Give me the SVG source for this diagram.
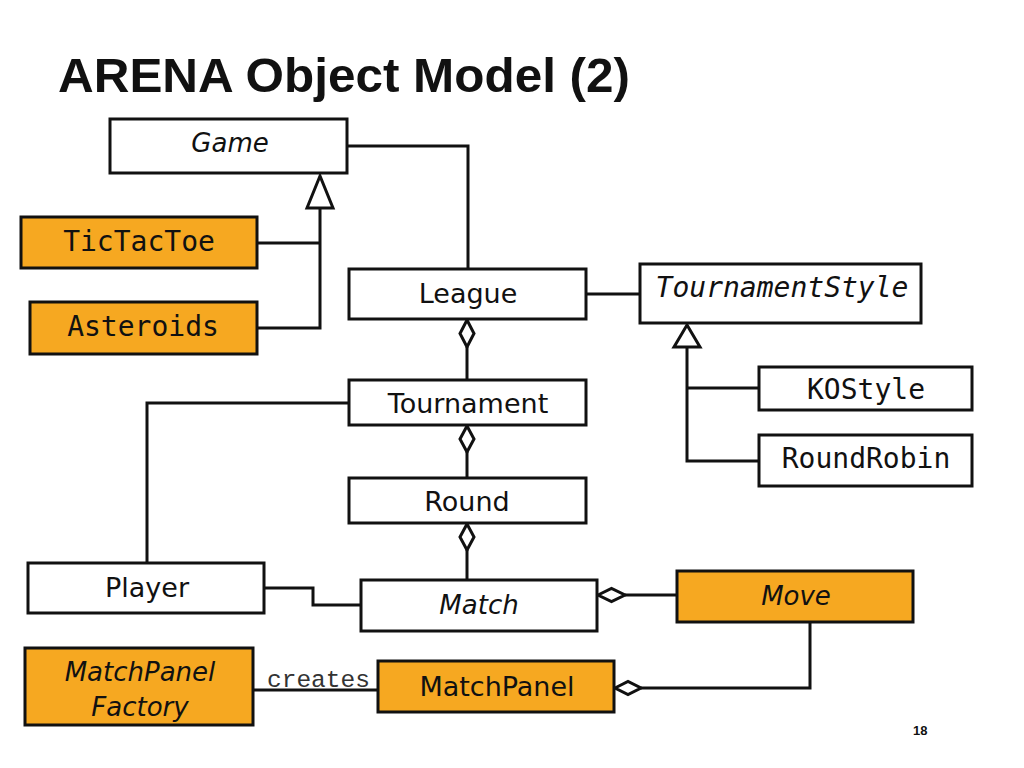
<svg xmlns="http://www.w3.org/2000/svg" width="1024" height="768" viewBox="0 0 1024 768">
<style>
.box{fill:#ffffff;stroke:#111;stroke-width:3}
.org{fill:#F6A821;stroke:#111;stroke-width:3}
.sans{font-family:"DejaVu Sans",Verdana,sans-serif;font-size:27px;fill:#111;text-anchor:middle}
.ital{font-family:"DejaVu Sans",Verdana,sans-serif;font-style:italic;font-size:26px;fill:#111;text-anchor:middle}
.mono{font-family:"DejaVu Sans Mono",monospace;font-size:28px;fill:#111;text-anchor:middle}
.monoi{font-family:"DejaVu Sans Mono",monospace;font-style:italic;font-size:28px;fill:#111;text-anchor:middle}
.ln{fill:none;stroke:#111;stroke-width:3}
.tri{fill:#ffffff;stroke:#111;stroke-width:3;stroke-linejoin:miter}
.dia{fill:#ffffff;stroke:#111;stroke-width:3}
</style>
<rect width="1024" height="768" fill="#ffffff"/>
<text x="58" y="92" font-family="Liberation Sans, Arial, sans-serif" font-weight="bold" font-size="48" fill="#111" textLength="572" lengthAdjust="spacingAndGlyphs">ARENA Object Model (2)</text>

<g id="connectors">
  <!-- Game inheritance -->
  <polyline class="ln" points="320,208 320,328 257,328"/>
  <line class="ln" x1="257" y1="243" x2="320" y2="243"/>
  <polygon class="tri" points="320,176 307,208 333,208"/>
  <!-- Game - League -->
  <polyline class="ln" points="347,146 468,146 468,269"/>
  <!-- League - Tournament -->
  <line class="ln" x1="467" y1="347" x2="467" y2="380"/>
  <polygon class="dia" points="467,320 474,333.5 467,347 460,333.5"/>
  <!-- League - TournamentStyle -->
  <line class="ln" x1="586" y1="294" x2="640" y2="294"/>
  <!-- TournamentStyle inheritance -->
  <polyline class="ln" points="687,347 687,461 759,461"/>
  <line class="ln" x1="687" y1="388" x2="759" y2="388"/>
  <polygon class="tri" points="687,325 674,347 700,347"/>
  <!-- Tournament - Round -->
  <line class="ln" x1="467" y1="452" x2="467" y2="478"/>
  <polygon class="dia" points="467,426 474,439 467,452 460,439"/>
  <!-- Tournament - Player -->
  <polyline class="ln" points="349,403 147,403 147,563"/>
  <!-- Round - Match -->
  <line class="ln" x1="467" y1="550" x2="467" y2="580"/>
  <polygon class="dia" points="467,524 474,537 467,550 460,537"/>
  <!-- Player - Match -->
  <polyline class="ln" points="264,588 313,588 313,605 361,605"/>
  <!-- Match - Move -->
  <line class="ln" x1="625" y1="595" x2="677" y2="595"/>
  <polygon class="dia" points="598,595 611.5,588.5 625,595 611.5,601.5"/>
  <!-- Move - MatchPanel -->
  <polyline class="ln" points="810,622 810,688 641,688"/>
  <polygon class="dia" points="615,688 628,681.5 641,688 628,694.5"/>
  <!-- MatchPanelFactory - MatchPanel -->
  <line class="ln" x1="253" y1="690" x2="378" y2="690"/>
  <text x="267" y="687" font-family="Liberation Mono, Courier New, monospace" font-size="24.5" fill="#333">creates</text>
</g>

<g id="game"><rect class="box" x="110" y="119" width="237" height="54"/><text class="ital" x="230" y="152">Game</text></g>
<g id="tictactoe"><rect class="org" x="21" y="217" width="236" height="51"/><text class="mono" x="139" y="251">TicTacToe</text></g>
<g id="asteroids"><rect class="org" x="30" y="302" width="227" height="52"/><text class="mono" x="143" y="336">Asteroids</text></g>
<g id="league"><rect class="box" x="349" y="269" width="237" height="50"/><text class="sans" x="468" y="303">League</text></g>
<g id="tournamentstyle"><rect class="box" x="640" y="264" width="281" height="59"/><text class="monoi" x="782" y="297">TournamentStyle</text></g>
<g id="kostyle"><rect class="box" x="759" y="367" width="213" height="43"/><text class="mono" x="866" y="399">KOStyle</text></g>
<g id="roundrobin"><rect class="box" x="759" y="435" width="213" height="51"/><text class="mono" x="866" y="468">RoundRobin</text></g>
<g id="tournament"><rect class="box" x="349" y="380" width="237" height="45"/><text class="sans" x="468" y="413">Tournament</text></g>
<g id="round"><rect class="box" x="349" y="478" width="237" height="45"/><text class="sans" x="467" y="511">Round</text></g>
<g id="player"><rect class="box" x="28" y="563" width="236" height="50"/><text class="sans" x="147" y="597">Player</text></g>
<g id="match"><rect class="box" x="361" y="580" width="236" height="51"/><text class="ital" x="479" y="614" font-size="27">Match</text></g>
<g id="move"><rect class="org" x="677" y="571" width="236" height="51"/><text class="ital" x="796" y="605" font-size="25">Move</text></g>
<g id="matchpanelfactory"><rect class="org" x="25" y="648" width="228" height="77"/><text class="ital" x="140" y="681" font-size="27">MatchPanel</text><text class="ital" x="140" y="716" font-size="27">Factory</text></g>
<g id="matchpanel"><rect class="org" x="378" y="661" width="236" height="51"/><text class="sans" x="497" y="696">MatchPanel</text></g>

<text x="913" y="735" font-family="Liberation Sans, Arial, sans-serif" font-size="13" font-weight="bold" fill="#111">18</text>
</svg>
